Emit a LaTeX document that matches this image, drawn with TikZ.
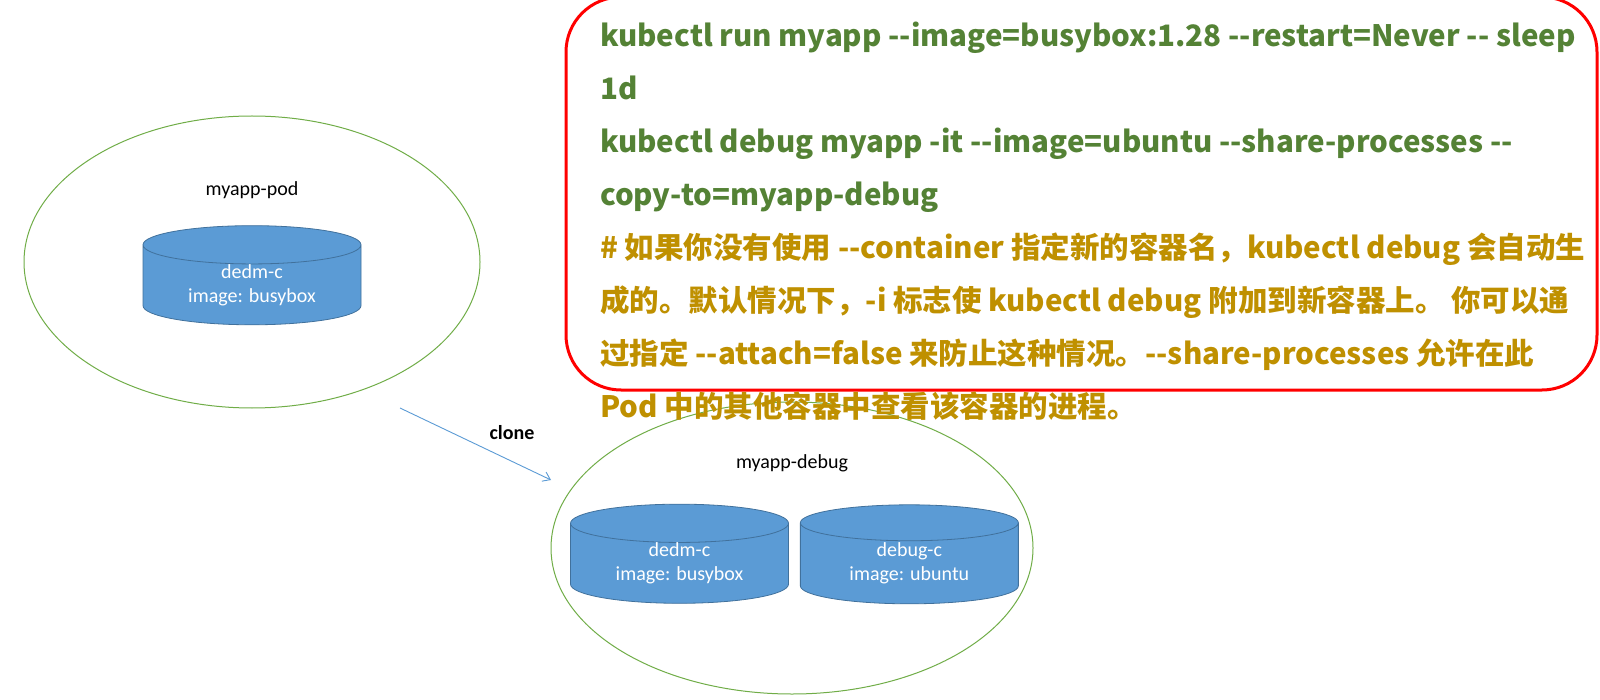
\documentclass[tikz,border=0pt]{standalone}
\usepackage{fontspec}
\setmainfont{Carlito}
\newfontfamily\cjkfont{Noto Sans CJK SC}
\usetikzlibrary{arrows.meta,positioning,shapes.geometric}

\definecolor{podgreen}{HTML}{70AD47}
\definecolor{cmdgreen}{HTML}{548235}
\definecolor{notegold}{HTML}{BF9000}
\definecolor{cylblue}{HTML}{5B9BD5}
\definecolor{cylline}{HTML}{41719C}
\definecolor{arrowblue}{HTML}{5B9BD5}

% two hyphens, kept apart so they are not joined into a dash
\newcommand{\ddash}{-\kern0pt-}
% colour of the note lines
\newcommand{\note}{\color{notegold}}

\begin{document}
\begin{tikzpicture}[
    x=1pt, y=-1pt,
    font=\fontsize{20}{24}\selectfont,
    node distance=11pt,
    pod/.style={
        ellipse,
        draw=podgreen,
        line width=1pt,
        inner sep=0pt
    },
    container/.style={
        cylinder,
        shape border rotate=90,
        aspect=0.3,
        draw=cylline,
        fill=cylblue,
        line width=0.8pt,
        text=white,
        align=center,
        minimum width=218pt,
        minimum height=99pt,
        inner sep=0pt
    },
    podlabel/.style={
        inner sep=0pt
    },
    cmd/.style={
        font=\cjkfont\bfseries\fontsize{29.5}{53}\selectfont,
        text=cmdgreen,
        align=left,
        inner sep=0pt
    },
    frame/.style={
        draw=red,
        line width=3pt,
        rounded corners=55pt
    },
    clonearrow/.style={
        -{Straight Barb[length=7pt,width=10pt]},
        draw=arrowblue,
        line width=0.9pt
    }
]
\useasboundingbox[fill=white] (0,0) rectangle (1600,700);

% source pod
\node[pod, minimum width=456pt, minimum height=292pt] (mypod) at (252,262) {};
\node[podlabel] (mypodlabel) at (252,190) {myapp-pod};
\node[container] (dedmc) at (252,285) {dedm-c\\image: busybox};

% copied pod
\node[pod, minimum width=482pt, minimum height=292pt] (debugpod) at (792,548) {};
\node[podlabel] (debugpodlabel) at (792,463) {myapp-debug};
\node[container] (dedmcopy) at (679.5,563.5) {dedm-c\\image: busybox};
\node[container, right=of dedmcopy] (debugc) {debug-c\\image: ubuntu};

% clone arrow
\coordinate (clonefrom) at (400,408);
\coordinate (cloneto) at (551,480);
\draw[clonearrow] (clonefrom) -- (cloneto);
\node[podlabel, font=\bfseries\fontsize{20}{24}\selectfont] (clonelabel) at (512,433) {clone};

% commands
\draw[frame] (566,-3) rectangle (1597,390);
\node[cmd, anchor=north west] (cmdtext) at (600,22) {%
kubectl run myapp \ddash image=busybox:1.28 \ddash restart=Never \ddash{} sleep\\
1d\\
kubectl debug myapp -it \ddash image=ubuntu \ddash share-processes \ddash\\
copy-to=myapp-debug\\
\note\# 如果你没有使用 \ddash container 指定新的容器名，kubectl debug 会自动生\\
\note 成的。默认情况下，-i 标志使 kubectl debug 附加到新容器上。 你可以通\\
\note 过指定 \ddash attach=false 来防止这种情况。\ddash share-processes 允许在此\\
\note Pod 中的其他容器中查看该容器的进程。};

\end{tikzpicture}
\end{document}
